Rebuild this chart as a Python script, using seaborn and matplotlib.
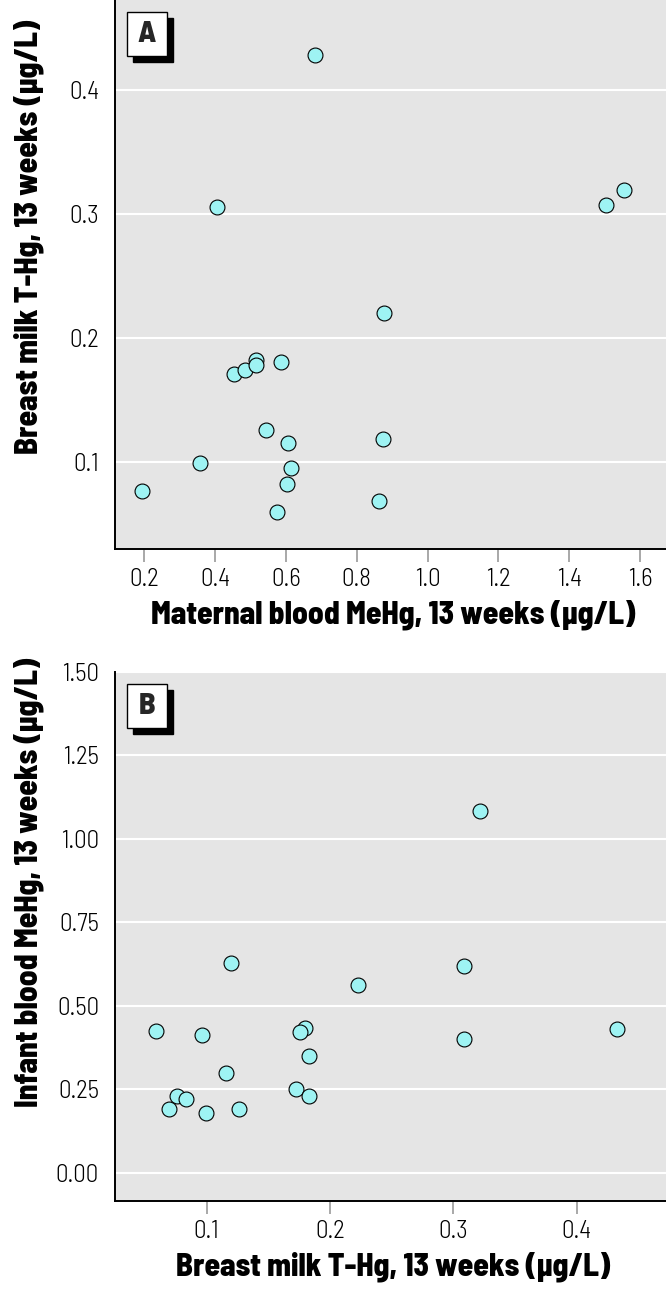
import matplotlib
matplotlib.use('Agg')
import matplotlib.pyplot as plt
from matplotlib.patches import Rectangle
import pandas as pd
import seaborn as sns

# Panel A: maternal blood MeHg vs breast milk T-Hg (13 weeks)
maternal_mehg = [0.682, 0.407, 1.503, 1.554, 0.876, 0.517, 0.586, 0.454, 0.485, 0.516,
                 0.545, 0.606, 0.874, 0.358, 0.616, 0.604, 0.195, 0.864, 0.574]
milk_thg_a = [0.4285, 0.306, 0.307, 0.319, 0.220, 0.182, 0.181, 0.171, 0.1745, 0.178,
              0.1256, 0.115, 0.1186, 0.099, 0.095, 0.0826, 0.0766, 0.0689, 0.0597]

# Panel B: breast milk T-Hg vs infant blood MeHg (13 weeks)
milk_thg_b = [0.1196, 0.309, 0.2224, 0.0593, 0.0962, 0.1797, 0.176, 0.433, 0.309, 0.1827,
              0.116, 0.0762, 0.0835, 0.0693, 0.0997, 0.126, 0.1724, 0.183, 0.3217]
infant_mehg = [0.628, 0.621, 0.562, 0.424, 0.412, 0.433, 0.422, 0.431, 0.402, 0.351,
               0.300, 0.229, 0.220, 0.190, 0.180, 0.190, 0.251, 0.231, 1.0825]

xticks_a = [0.2, 0.4, 0.6, 0.8, 1.0, 1.2, 1.4, 1.6]
yticks_a = [0.1, 0.2, 0.3, 0.4]
xticks_b = [0.1, 0.2, 0.3, 0.4]
yticks_b = [0.00, 0.25, 0.50, 0.75, 1.00, 1.25, 1.50]

df_a = pd.DataFrame({'x': maternal_mehg, 'y': milk_thg_a})
df_b = pd.DataFrame({'x': milk_thg_b, 'y': infant_mehg})

sns.set_style('darkgrid', {'axes.facecolor': '#e5e5e5', 'grid.color': 'white'})
cond = ['Barlow Semi Condensed', 'DejaVu Sans']
plt.rcParams['font.family'] = cond

fig = plt.figure(figsize=(6.66, 12.91), dpi=100)
W, H = 666, 1291


def style_panel(ax, letter, xticks, yticks, xfmt, yfmt, xlabel, ylabel, ylab_y):
    ax.grid(False)
    ax.yaxis.grid(True, color='white', lw=1.5)
    for s in ['top', 'right']:
        ax.spines[s].set_visible(False)
    for s in ['left', 'bottom']:
        ax.spines[s].set_visible(True)
        ax.spines[s].set_color('black')
        ax.spines[s].set_linewidth(1.4)
    ax.set_xticks(xticks)
    ax.set_yticks(yticks)
    ax.set_xticklabels([xfmt.format(v) for v in xticks])
    ax.set_yticklabels([yfmt.format(v) for v in yticks])
    ax.tick_params(axis='x', bottom=True, color='#999999', length=9, width=1.2,
                   labelsize=18, pad=5, labelcolor='black')
    ax.tick_params(axis='y', left=False, labelsize=18, pad=8, labelcolor='black')
    for t in ax.get_xticklabels() + ax.get_yticklabels():
        t.set_fontweight(300)
    pos = ax.get_position()
    aw, ah = pos.width * W, pos.height * H
    ax.set_xlabel(xlabel, fontsize=22.5, fontweight=800, color='black', va='center')
    ax.set_ylabel(ylabel, fontsize=22.5, fontweight=800, color='black', va='center')
    ax.xaxis.set_label_coords(0.504, -66 / ah)
    ax.yaxis.set_label_coords(-86 / aw, ylab_y)
    # panel letter box with drop shadow
    bw, bh = 40 / aw, 44 / ah
    ox, oy = 6 / aw, 6 / ah
    x0, y1 = 12 / aw, 1 - 12 / ah
    ax.add_patch(Rectangle((x0 + ox, y1 - bh - oy), bw, bh, transform=ax.transAxes,
                           fc='black', ec='black', zorder=5))
    ax.add_patch(Rectangle((x0, y1 - bh), bw, bh, transform=ax.transAxes,
                           fc='white', ec='black', lw=1, zorder=6))
    ax.text(x0 + bw / 2, y1 - bh / 2, letter, transform=ax.transAxes, ha='center',
            va='center', fontsize=22, fontweight=800, zorder=7)


# Panel A
ax1 = fig.add_axes([115 / W, 1 - 549 / H, 1 - 115 / W, 549 / H])
sns.scatterplot(data=df_a, x='x', y='y', ax=ax1, s=115, color='#9ef3f3',
                edgecolor='black', linewidth=0.8, zorder=3)
ax1.set_xlim(0.118, 1.673)
ax1.set_ylim(0.0298, 0.4726)
style_panel(ax1, 'A', xticks_a, yticks_a, '{:.1f}', '{:.1f}',
            'Maternal blood MeHg, 13 weeks (\u00b5g/L)',
            'Breast milk T-Hg, 13 weeks (\u00b5g/L)', 0.569)

# Panel B
ax2 = fig.add_axes([115 / W, 1 - 1201 / H, 1 - 115 / W, (1201 - 672) / H])
sns.scatterplot(data=df_b, x='x', y='y', ax=ax2, s=115, color='#9ef3f3',
                edgecolor='black', linewidth=0.8, zorder=3)
ax2.set_xlim(0.0258, 0.4725)
ax2.set_ylim(-0.084, 1.50)
style_panel(ax2, 'B', xticks_b, yticks_b, '{:.1f}', '{:.2f}',
            'Breast milk T-Hg, 13 weeks (\u00b5g/L)',
            'Infant blood MeHg, 13 weeks (\u00b5g/L)', 0.603)

fig.savefig('out.png', dpi=100)
